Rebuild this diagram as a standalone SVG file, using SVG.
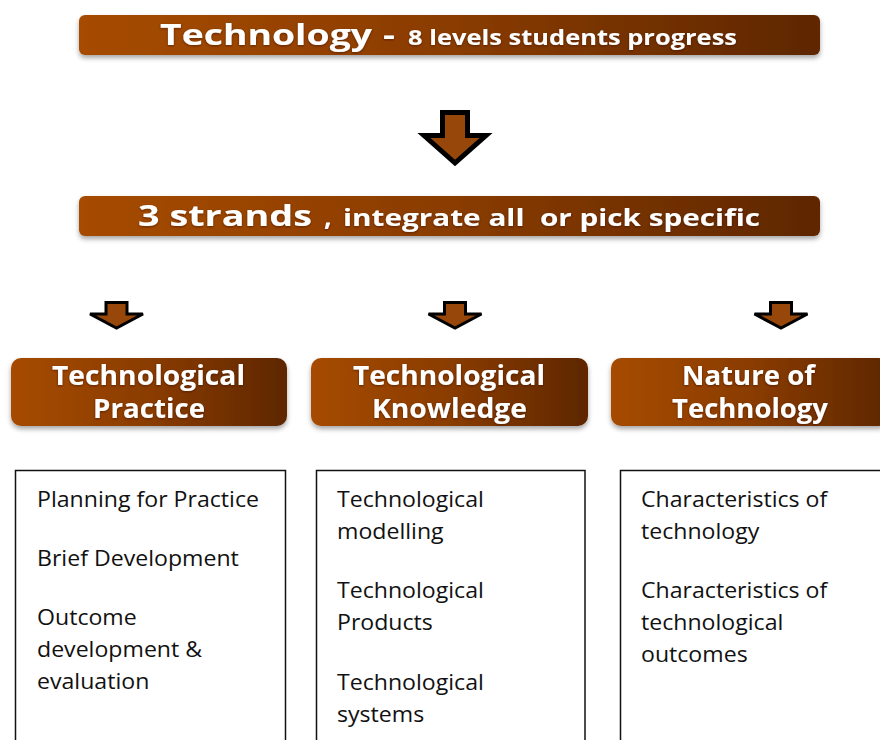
<svg xmlns="http://www.w3.org/2000/svg" width="880" height="740" viewBox="0 0 880 740">
  <defs>
    <linearGradient id="brown" x1="0" y1="0" x2="1" y2="0">
      <stop offset="0" stop-color="#A64B06"/>
      <stop offset="0.5" stop-color="#8A3C02"/>
      <stop offset="1" stop-color="#5E2700"/>
    </linearGradient>
    <filter id="shadow" x="-5%" y="-30%" width="110%" height="170%">
      <feDropShadow dx="0" dy="3" stdDeviation="2.5" flood-color="#000" flood-opacity="0.35"/>
    </filter>
    <filter id="glow" x="-5%" y="-30%" width="110%" height="160%">
      <feDropShadow dx="0" dy="1" stdDeviation="1" flood-color="#3a1600" flood-opacity="0.6"/>
    </filter>
  </defs>
  <style>
    .banner { fill: url(#brown); filter: url(#shadow); }
    .head { font-family: "Open Sans", "Liberation Sans", sans-serif; font-weight: bold; fill: #ffffff; filter: url(#glow); }
    .body { font-family: "Open Sans", "Liberation Sans", sans-serif; font-size: 21.5px; fill: #111111; }
    .box { fill: #ffffff; stroke: #111111; stroke-width: 1.5; }
    .arrow { fill: #97470A; stroke: #000000; stroke-linejoin: miter; }
  </style>
  <rect width="880" height="740" fill="#ffffff"/>

  <g id="title">
    <rect class="banner" x="79" y="15" width="741" height="40" rx="6"/>
    <text class="head" font-size="29" x="160" y="45" textLength="212" lengthAdjust="spacingAndGlyphs">Technology</text>
    <text class="head" font-size="28" x="383" y="45" textLength="12" lengthAdjust="spacingAndGlyphs">-</text>
    <text class="head" font-size="21.5" x="408" y="45" textLength="329" lengthAdjust="spacingAndGlyphs">8 levels students progress</text>
  </g>

  <g id="strands">
    <rect class="banner" x="79" y="196" width="741" height="40" rx="6"/>
    <text class="head" font-size="28" x="138" y="226" textLength="174" lengthAdjust="spacingAndGlyphs">3 strands</text>
    <text class="head" font-size="27" x="324" y="226">,</text>
    <text class="head" font-size="22.5" x="343" y="226" textLength="417" lengthAdjust="spacingAndGlyphs" xml:space="preserve">integrate all  or pick specific</text>
  </g>

  <g id="connectors">
    <path class="arrow" stroke-width="5" d="M442.5 112.5 H467.5 V135.5 H486 L455 163 L424 135.5 H442.5 Z"/>
    <path class="arrow" stroke-width="3" d="M106 302.5 H127 V314 H143 L116.5 328 L90 314 H106 Z"/>
    <path class="arrow" stroke-width="3" d="M444.5 302.5 H465.5 V314 H481.5 L455 328 L428.5 314 H444.5 Z"/>
    <path class="arrow" stroke-width="3" d="M770.5 302.5 H791.5 V314 H807.5 L781 328 L754.5 314 H770.5 Z"/>
  </g>

  <g id="practice">
    <rect class="banner" x="11" y="358" width="276" height="68" rx="10"/>
    <text class="head" font-size="26.5" x="52" y="385" textLength="193" lengthAdjust="spacingAndGlyphs">Technological</text>
    <text class="head" font-size="26.5" x="93" y="418" textLength="112" lengthAdjust="spacingAndGlyphs">Practice</text>
  </g>

  <g id="knowledge">
    <rect class="banner" x="311" y="358" width="277" height="68" rx="10"/>
    <text class="head" font-size="26.5" x="353" y="385" textLength="192" lengthAdjust="spacingAndGlyphs">Technological</text>
    <text class="head" font-size="26.5" x="372" y="418" textLength="155" lengthAdjust="spacingAndGlyphs">Knowledge</text>
  </g>

  <g id="nature">
    <rect class="banner" x="611" y="358" width="278" height="68" rx="10"/>
    <text class="head" font-size="26.5" x="682" y="385" textLength="133" lengthAdjust="spacingAndGlyphs">Nature of</text>
    <text class="head" font-size="26.5" x="672" y="418" textLength="156" lengthAdjust="spacingAndGlyphs">Technology</text>
  </g>

  <g id="practice-list">
    <rect class="box" x="15.5" y="470.5" width="270" height="290"/>
    <g transform="translate(37 0) scale(1.075 1)">
      <text class="body" x="0" y="507">Planning for Practice</text>
      <text class="body" x="0" y="566">Brief Development</text>
      <text class="body" x="0" y="625">Outcome</text>
      <text class="body" x="0" y="657">development &amp;</text>
      <text class="body" x="0" y="689">evaluation</text>
    </g>
  </g>

  <g id="knowledge-list">
    <rect class="box" x="316.5" y="470.5" width="268.5" height="290"/>
    <g transform="translate(337 0) scale(1.075 1)">
      <text class="body" x="0" y="507">Technological</text>
      <text class="body" x="0" y="539">modelling</text>
      <text class="body" x="0" y="598">Technological</text>
      <text class="body" x="0" y="630">Products</text>
      <text class="body" x="0" y="690">Technological</text>
      <text class="body" x="0" y="722">systems</text>
    </g>
  </g>

  <g id="nature-list">
    <rect class="box" x="620.5" y="470.5" width="280" height="290"/>
    <g transform="translate(641 0) scale(1.075 1)">
      <text class="body" x="0" y="507">Characteristics of</text>
      <text class="body" x="0" y="539">technology</text>
      <text class="body" x="0" y="598">Characteristics of</text>
      <text class="body" x="0" y="630">technological</text>
      <text class="body" x="0" y="662">outcomes</text>
    </g>
  </g>
</svg>
